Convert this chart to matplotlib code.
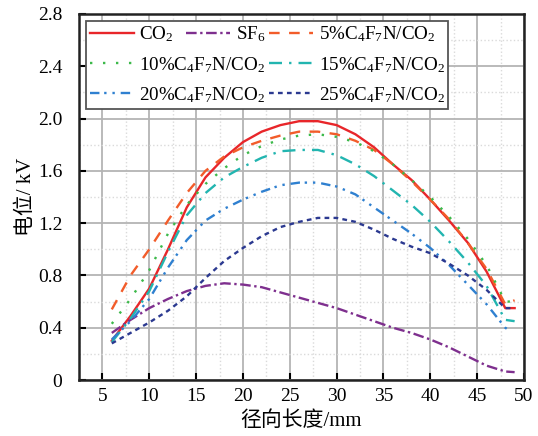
import numpy as np
import matplotlib
matplotlib.use('Agg')
import matplotlib.pyplot as plt

plt.rcParams['font.family'] = ['Liberation Serif', 'Noto Sans CJK SC']
plt.rcParams['mathtext.fontset'] = 'custom'
plt.rcParams['mathtext.rm'] = 'Liberation Serif'
plt.rcParams['mathtext.it'] = 'Liberation Serif:italic'
plt.rcParams['font.size'] = 14

# radial position (mm)
x = [6, 8, 10, 12, 14, 16, 18, 20, 22, 24, 26, 28, 30, 32, 34, 36, 38, 40, 42, 44, 46, 48, 49]

co2 = [0.30, 0.49, 0.70, 1.00, 1.32, 1.55, 1.70, 1.82, 1.90, 1.95, 1.98, 1.98, 1.95, 1.88, 1.78,
       1.65, 1.53, 1.38, 1.22, 1.05, 0.83, 0.55, 0.55]
sf6 = [0.36, 0.46, 0.55, 0.62, 0.68, 0.72, 0.74, 0.73, 0.71, 0.67, 0.63, 0.59, 0.55, 0.50, 0.45,
       0.40, 0.36, 0.31, 0.25, 0.18, 0.11, 0.065, 0.06]
p5 = [0.54, 0.80, 1.00, 1.22, 1.43, 1.60, 1.71, 1.78, 1.83, 1.87, 1.90, 1.90, 1.88, 1.83, 1.76,
      1.65, 1.52, 1.38, 1.23, 1.05, 0.85, 0.58, 0.61]
p10 = [0.43, 0.62, 0.84, 1.12, 1.34, 1.50, 1.62, 1.72, 1.79, 1.84, 1.87, 1.88, 1.86, 1.82, 1.75,
       1.65, 1.53, 1.40, 1.25, 1.08, 0.88, 0.60, 0.60]
p15 = [0.29, 0.47, 0.68, 0.98, 1.26, 1.43, 1.55, 1.63, 1.70, 1.75, 1.76, 1.76, 1.72, 1.65, 1.56,
       1.45, 1.34, 1.21, 1.06, 0.90, 0.72, 0.46, 0.45]
x20 = [6, 8, 10, 12, 14, 16, 18, 20, 22, 24, 26, 28, 30, 32, 34, 36, 38, 40, 42, 44, 46, 48, 48.6]
p20 = [0.31, 0.45, 0.62, 0.86, 1.07, 1.22, 1.31, 1.38, 1.44, 1.49, 1.51, 1.51, 1.48, 1.42, 1.32,
       1.22, 1.12, 1.01, 0.88, 0.73, 0.58, 0.40, 0.37]
p25 = [0.28, 0.36, 0.44, 0.53, 0.64, 0.78, 0.91, 1.01, 1.10, 1.17, 1.21, 1.24, 1.24, 1.21, 1.15,
       1.08, 1.02, 0.97, 0.89, 0.80, 0.69, 0.55, 0.55]

xticks = [5, 10, 15, 20, 25, 30, 35, 40, 45, 50]
yticks = [0, 0.4, 0.8, 1.2, 1.6, 2.0, 2.4, 2.8]
ylabels = ['0', '0.4', '0.8', '1.2', '1.6', '2.0', '2.4', '2.8']

fig = plt.figure(figsize=(5.38, 4.36), dpi=100)
ax = fig.add_axes([79/538, 56/436, 445/538, 366/436])

lw = 1.7
l_co2, = ax.plot(x, co2, color='#e8262a', lw=lw, ls='-')
l_sf6, = ax.plot(x, sf6, color='#7e2f8e', lw=lw, ls=(0, (4.5, 1.5, 1, 1.5)))
l_5, = ax.plot(x, p5, color='#f25c2a', lw=lw, ls=(0, (4.5, 4)))
l_10, = ax.plot(x, p10, color='#3cb94a', lw=lw, ls=(0, (1, 4.5)))
l_15, = ax.plot(x, p15, color='#22b5b0', lw=lw, ls=(0, (5.5, 3, 1, 3)))
l_20, = ax.plot(x20, p20, color='#2f80d0', lw=lw, ls=(0, (4, 2, 1, 2.5, 1, 2.5)))
l_25, = ax.plot(x, p25, color='#2b3990', lw=lw, ls=(0, (2, 1.8)))

ax.set_xlim(4, 50)
ax.set_ylim(0, 2.8)
ax.set_xticks(xticks)
ax.set_yticks(yticks)
ax.set_yticklabels(ylabels)
ax.set_xticks(np.arange(2.5, 50, 5), minor=True)
ax.set_yticks(np.arange(0.2, 2.8, 0.4), minor=True)
ax.tick_params(which='major', direction='in', length=5, width=1.5, labelsize=14)
ax.tick_params(axis='x', pad=6)
ax.tick_params(axis='y', pad=12)
ax.tick_params(which='minor', length=0)
ax.grid(which='major', color='#b4b4b4', lw=1.3, ls='-')
ax.grid(which='minor', color='#dadada', lw=1.0, ls=':')
ax.set_axisbelow(True)
for s in ax.spines.values():
    s.set_linewidth(1.8)
    s.set_color('#222222')

ax.set_xlabel('径向长度/mm', fontsize=15, labelpad=4)
ax.set_ylabel('电位/ kV', fontsize=15, labelpad=1)

names = ['CO$_2$', 'SF$_6$', '5%C$_4$F$_7$N/CO$_2$', '10%C$_4$F$_7$N/CO$_2$',
         '15%C$_4$F$_7$N/CO$_2$', '20%C$_4$F$_7$N/CO$_2$', '25%C$_4$F$_7$N/CO$_2$']

leg = ax.legend([l_co2, l_10, l_20, l_5, l_15, l_25],
                [names[0], names[3], names[5], names[2], names[4], names[6]],
                ncol=2, loc='upper left', bbox_to_anchor=(0.016, 0.981), borderaxespad=0,
                handlelength=2.3, handletextpad=0.3, columnspacing=0.2, labelspacing=0.55,
                borderpad=0.2, fontsize=13.7, fancybox=False, edgecolor='#555555', framealpha=1)
leg.get_frame().set_linewidth(1.3)
ax.add_artist(leg)
leg2 = ax.legend([l_sf6], [names[1]], loc='upper left', bbox_to_anchor=(0.232, 0.981),
                 borderaxespad=0, handlelength=2.3, handletextpad=0.3, borderpad=0.2,
                 fontsize=13.7, frameon=False)

fig.savefig('out.png', dpi=100)
